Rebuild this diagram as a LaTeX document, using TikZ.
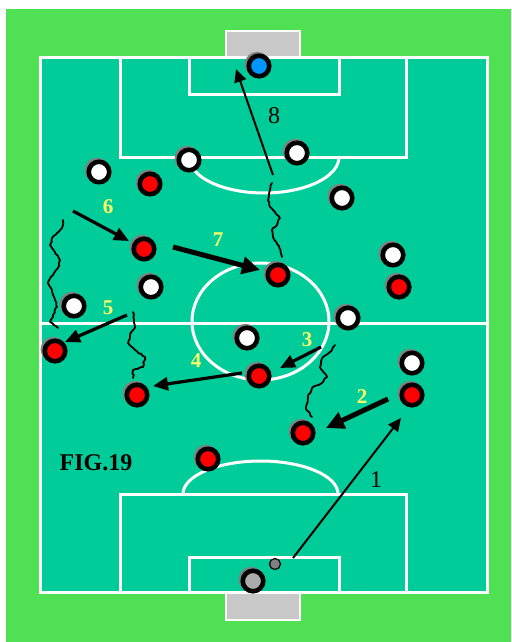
\documentclass[tikz,border=0pt]{standalone}
\usepackage{fontspec}
\setmainfont{Liberation Serif}
\usetikzlibrary{arrows.meta,decorations.pathmorphing}
\definecolor{grass}{RGB}{80,224,84}
\definecolor{pitch}{RGB}{0,204,153}
\definecolor{goalgrey}{RGB}{200,200,200}
\definecolor{numyellow}{RGB}{255,255,102}
\definecolor{keeperblue}{RGB}{0,150,255}
\tikzset{
  chalk/.style={draw=white, line width=3pt},
  man/.style={circle, draw=black, line width=4.6pt, minimum size=20.5pt, inner sep=0pt,
    preaction={draw=gray, line width=4.6pt, transform canvas={shift={(-1.8pt,1.6pt)}}}},
  redman/.style={man, fill=red},
  whiteman/.style={man, fill=white},
  pass/.style={-{Triangle[length=15pt,width=13pt]}, line width=3.2pt},
  longpass/.style={-{Triangle[length=13pt,width=12pt]}, line width=2pt},
  hardpass/.style={-{Triangle[length=18pt,width=17pt]}, line width=5pt},
  dribble/.style={line width=1.8pt, line cap=round, line join=round,
    decorate, decoration={random steps, segment length=2.5pt, amplitude=0.8pt}},
  num/.style={text=numyellow, font=\bfseries\fontsize{21}{21}\selectfont, inner sep=0pt},
  shotnum/.style={font=\fontsize{24}{24}\selectfont, inner sep=0pt}
}
\begin{document}
\begin{tikzpicture}[x=1pt, y=-1pt]
\useasboundingbox (0,0) rectangle (511,642);
\fill[white] (0,0) rectangle (511,642);
\fill[grass] (6,9) rectangle (511,642);

% goals
\draw[chalk, fill=goalgrey, line width=2.5pt] (226,31) rectangle (300,57);
\draw[chalk, fill=goalgrey, line width=2.5pt] (226,593) rectangle (300,620);

% pitch markings
\path[chalk, fill=pitch] (40,58) rectangle (487,592);
\draw[chalk] (40,323) -- (487,323);
\draw[chalk] (260.5,321.5) ellipse [x radius=68.5pt, y radius=58.5pt];
\draw[chalk] (120,58) rectangle (406,157);
\draw[chalk] (189,58) rectangle (339,94);
\draw[chalk] (189,157) arc[start angle=180, end angle=360, x radius=75pt, y radius=36pt];
\draw[chalk] (120,494) rectangle (406,592);
\draw[chalk] (189,557) rectangle (339,592);
\draw[chalk] (183,494) arc[start angle=180, end angle=0, x radius=77.5pt, y radius=33pt];

% keepers and ball
\node[man, fill=keeperblue] (GKa) at (259,66) {};
\node[man, fill=gray!65] (GKb) at (253,581) {};
\node[circle, draw=black, line width=1.2pt, fill=gray, minimum size=11pt, inner sep=0pt] (ball) at (275,564) {};

% red team
\node[redman] (R1) at (412,395) {};
\node[redman] (R2) at (303,433) {};
\node[redman] (R3) at (259,376) {};
\node[redman] (R4) at (137,395) {};
\node[redman] (R5) at (55,351) {};
\node[redman] (R6) at (144,249) {};
\node[redman] (R7) at (278,275) {};
\node[redman] (R8) at (399,287) {};
\node[redman] (R9) at (150,184) {};
\node[redman] (R10) at (208,459) {};

% white team
\node[whiteman] (W1) at (189,160) {};
\node[whiteman] (W2) at (297,153) {};
\node[whiteman] (W3) at (99,172) {};
\node[whiteman] (W4) at (342,198) {};
\node[whiteman] (W5) at (393,255) {};
\node[whiteman] (W6) at (151,287) {};
\node[whiteman] (W7) at (74,306) {};
\node[whiteman] (W8) at (348,318) {};
\node[whiteman] (W9) at (247,338) {};
\node[whiteman] (W10) at (412,363) {};

% runs with the ball
\draw[dribble] (312,417) -- (306,409) -- (308,397) -- (312,388) -- (322,383) -- (327,377) -- (320,367) -- (323,357) -- (330,352) -- (335,345);
\draw[dribble] (133,378) -- (133,370) -- (143,367) -- (145,357) -- (135,350) -- (128,343) -- (130,335) -- (135,327) -- (133,312);
\draw[dribble] (58,328) -- (50,322) -- (53,315) -- (57,307) -- (55,300) -- (52,290) -- (48,282) -- (53,275) -- (58,268) -- (60,260) -- (55,252) -- (50,245) -- (52,238) -- (57,233) -- (62,228) -- (63,220);
\draw[dribble] (282,257) -- (279,246) -- (273,237) -- (272,230) -- (277,225) -- (280,218) -- (275,212) -- (270,207) -- (268,200) -- (270,190) -- (272,183);

% passes and shot
\coordinate (s1) at (293,558); \coordinate (t1) at (401,418);
\coordinate (s2) at (388,399); \coordinate (t2) at (326,428);
\coordinate (s3) at (321,347); \coordinate (t3) at (280,368);
\coordinate (s4) at (242,373); \coordinate (t4) at (153,386);
\coordinate (s5) at (127,315); \coordinate (t5) at (65,342);
\coordinate (s6) at (73,211);  \coordinate (t6) at (129,241);
\coordinate (s7) at (173,247); \coordinate (t7) at (260,270);
\coordinate (s8) at (273,175); \coordinate (t8) at (236,69);
\draw[longpass] (s1) -- (t1);
\draw[hardpass] (s2) -- (t2);
\draw[pass] (s3) -- (t3);
\draw[pass] (s4) -- (t4);
\draw[pass] (s5) -- (t5);
\draw[pass] (s6) -- (t6);
\draw[hardpass] (s7) -- (t7);
\draw[longpass] (s8) -- (t8);

% numbers
\node[shotnum] (n1) at (376,480) {1};
\node[num] (n2) at (362,397) {2};
\node[num] (n3) at (307,340) {3};
\node[num] (n4) at (196,361) {4};
\node[num] (n5) at (108,308) {5};
\node[num] (n6) at (108,207) {6};
\node[num] (n7) at (218,240) {7};
\node[shotnum] (n8) at (274,116) {8};
\node[font=\bfseries\fontsize{24}{24}\selectfont, inner sep=0pt] (fig) at (96,463) {FIG.19};
\end{tikzpicture}
\end{document}
